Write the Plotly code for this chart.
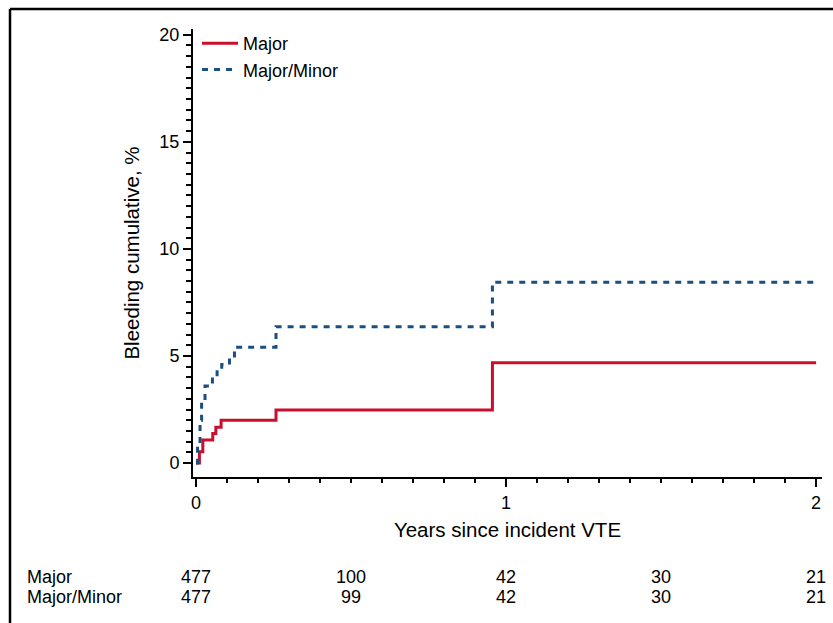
import plotly.graph_objects as go

# ---- data ----
major_t = [0, 0.011, 0.022, 0.054, 0.064, 0.081, 0.258, 0.956, 2.0]
major_v = [0, 0.53, 1.08, 1.38, 1.67, 2.0, 2.48, 4.68, 4.68]

mm_t = [0, 0.005, 0.013, 0.018, 0.029, 0.053, 0.068, 0.083, 0.108, 0.124, 0.258, 0.956, 2.0]
mm_v = [0, 0.8, 2.0, 2.9, 3.6, 4.0, 4.4, 4.6, 4.9, 5.41, 6.37, 8.44, 8.44]

risk_times = [0, 0.5, 1, 1.5, 2]
risk_major = [477, 100, 42, 30, 21]
risk_mm = [477, 99, 42, 30, 21]
risk_labels = ["Major", "Major/Minor"]

y_ticks = [0, 5, 10, 15, 20]
x_ticks = [0, 1, 2]

RED = "#C8102E"
BLUE = "#1A4F80"
FONT = "Liberation Sans, Arial, Helvetica, sans-serif"

fig = go.Figure()
fig.add_trace(go.Scatter(x=major_t, y=major_v, mode="lines", name="Major",
                         line=dict(color=RED, width=3, shape="hv")))
fig.add_trace(go.Scatter(x=mm_t, y=mm_v, mode="lines", name="Major/Minor",
                         line=dict(color=BLUE, width=3, shape="hv", dash="6px,6px")))

W, H = 833, 623
L, R, T, B = 193, 11, 29, 146
pw, ph = W - L - R, H - T - B

def px_to_paper_x(px):
    return (px - L) / pw

def px_to_paper_y(py):
    return (H - B - py) / ph

annotations = []
rows_y = [577, 597]
for lab, vals, py in zip(risk_labels, [risk_major, risk_mm], rows_y):
    annotations.append(dict(x=px_to_paper_x(25), y=px_to_paper_y(py), xref="paper", yref="paper",
                            text=lab, showarrow=False, xanchor="left", yanchor="middle",
                            font=dict(size=18, color="black", family=FONT)))
    for t, v in zip(risk_times, vals):
        annotations.append(dict(x=t, y=px_to_paper_y(py), xref="x", yref="paper",
                                text=str(v), showarrow=False, xanchor="center", yanchor="middle",
                                font=dict(size=18, color="black", family=FONT)))

shapes = [
    dict(type="line", xref="paper", yref="paper",
         x0=px_to_paper_x(10), x1=px_to_paper_x(833), y0=px_to_paper_y(9), y1=px_to_paper_y(9),
         line=dict(color="black", width=2.5)),
    dict(type="line", xref="paper", yref="paper",
         x0=px_to_paper_x(10), x1=px_to_paper_x(10), y0=px_to_paper_y(9), y1=px_to_paper_y(623),
         line=dict(color="black", width=2.5)),
]

fig.update_layout(
    width=W, height=H,
    margin=dict(l=L, r=R, t=T, b=B, autoexpand=False),
    paper_bgcolor="white", plot_bgcolor="white",
    font=dict(family=FONT, color="black"),
    showlegend=True,
    legend=dict(x=0.0064, y=1.009, xanchor="left", yanchor="top", bgcolor="rgba(0,0,0,0)",
                font=dict(size=18, family=FONT), itemwidth=36, tracegroupgap=0),
    annotations=annotations,
    shapes=shapes,
    xaxis=dict(range=[-0.0097, 2.019], showgrid=False, zeroline=False,
               showline=True, linecolor="black", linewidth=2,
               ticks="outside", ticklen=8, tickwidth=2, tickcolor="black",
               tickvals=x_ticks, ticktext=[str(v) for v in x_ticks],
               tickfont=dict(size=18, family=FONT),
               minor=dict(tickvals=[i / 10 for i in range(21)], ticks="outside", ticklen=4,
                          tickwidth=2, tickcolor="black", showgrid=False),
               title=dict(text="Years since incident VTE", font=dict(size=20.5, family=FONT), standoff=11)),
    yaxis=dict(range=[-0.65, 20.27], showgrid=False, zeroline=False,
               showline=True, linecolor="black", linewidth=2,
               ticks="outside", ticklen=8, tickwidth=2, tickcolor="black",
               tickvals=y_ticks, ticktext=[str(v) for v in y_ticks],
               tickfont=dict(size=18, family=FONT),
               minor=dict(tickvals=[i / 2 for i in range(41)], ticks="outside", ticklen=5,
                          tickwidth=2, tickcolor="black", showgrid=False),
               title=dict(text="Bleeding cumulative, %", font=dict(size=20.5, family=FONT), standoff=14)),
)

fig.write_html("out.html", config={"displayModeBar": False},
               post_script="document.body.style.margin='0px';document.body.style.overflow='hidden';")
